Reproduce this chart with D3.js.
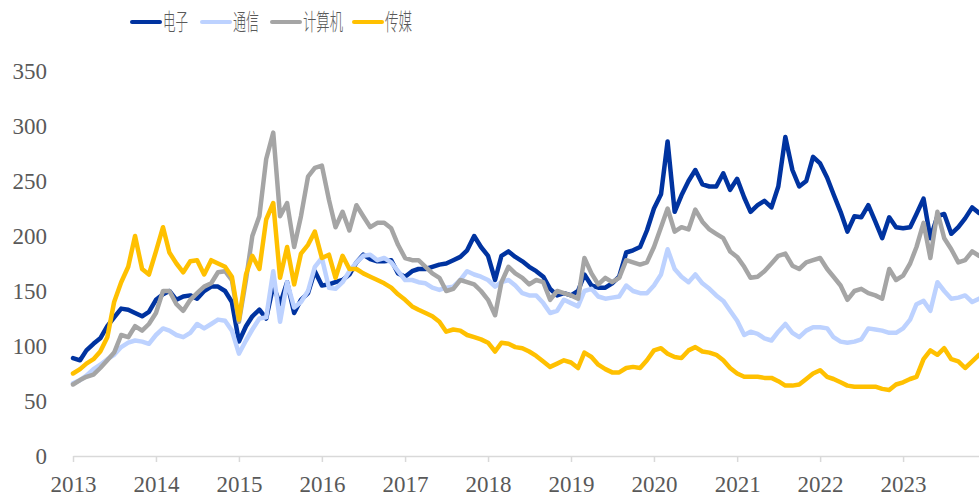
<!DOCTYPE html>
<html lang="zh">
<head>
<meta charset="UTF-8">
<title>电子 通信 计算机 传媒</title>
<script src="https://cdn.jsdelivr.net/npm/d3@7"></script>
<style>
    body { margin: 0; background: #fff; }
    svg { display: block; }
</style>
</head>
<body>
<div id="chart"></div>
<script>
    const width = 979;
    const height = 496;

    // monthly index values, Jan 2013 .. Dec 2023
    const names = ["电子", "通信", "计算机", "传媒"];
    const colors = ["#0033A0", "#BDD2FF", "#A5A5A5", "#FFC000"];
    const yTicks = [0, 50, 100, 150, 200, 250, 300, 350];
    const years = [2013, 2014, 2015, 2016, 2017, 2018, 2019, 2020, 2021, 2022, 2023];

    const dianzi = [
        89, 87, 96, 102, 107, 118, 126, 134, 133, 130, 127, 131,
        142, 147, 150, 142, 145, 146, 143, 150, 154, 154, 150, 140,
        104, 118, 127, 133, 125, 155, 138, 158, 130, 142, 148, 168,
        155, 156, 158, 160, 165, 176, 183, 179, 177, 177, 178, 166,
        163, 168, 170, 170, 172, 174, 175, 178, 181, 187, 200, 190,
        182, 160, 182, 186, 181, 177, 172, 168, 163, 152, 146, 148,
        146, 150, 165, 155, 153, 153, 157, 163, 185, 187, 190, 205,
        225, 238, 286, 222, 237, 250, 260, 247, 245, 245, 257, 242,
        252, 235, 222, 228, 232, 226, 245, 290, 260, 245, 250, 272,
        266, 253, 238, 222, 204, 218, 217, 228, 213, 198, 217, 208,
        207, 208, 220, 234, 198, 218, 220, 202, 208, 216, 226, 221
    ];
    const tongxin = [
        66, 69, 73, 79, 83, 88, 92, 99, 103, 105, 104, 102,
        110, 116, 114, 110, 108, 112, 120, 116, 120, 124, 123, 114,
        93, 105, 115, 125, 126, 168, 122, 158, 135, 140, 150, 172,
        180, 153, 152, 158, 168, 176, 182, 183, 178, 180, 176, 168,
        160, 160, 158, 157, 153, 151, 153, 154, 160, 168, 165, 163,
        160, 154, 158, 160, 155, 148, 146, 146, 139, 130, 132, 142,
        139, 136, 150, 152, 145, 143, 144, 145, 155, 150, 148, 148,
        155, 165, 188, 170, 163, 158, 165, 157, 152, 146, 141, 132,
        123, 110, 113, 111, 107, 105, 113, 120, 112, 108, 114, 117,
        117, 116, 108, 104, 103, 104, 106, 116, 115, 114, 112, 112,
        116, 124, 138, 141, 132, 158, 150, 143, 144, 146, 140, 143
    ];
    const jisuanji = [
        65, 69, 72, 74, 80, 87, 94, 110, 108, 118, 114, 120,
        130, 150, 150, 138, 132, 142, 148, 154, 157, 167, 168, 160,
        122, 160, 200, 218, 270, 294, 218, 230, 190, 218, 254, 262,
        264, 233, 208, 222, 205, 228, 218, 208, 212, 212, 207, 192,
        180, 178, 178, 172, 166, 162, 150, 152, 160, 158, 156, 150,
        142, 128, 158, 172, 166, 162, 156, 160, 158, 142, 150, 148,
        146, 143, 180, 166, 156, 162, 158, 162, 178, 176, 174, 176,
        190, 208, 225, 204, 208, 206, 224, 213, 206, 202, 198, 186,
        181, 172, 162, 163, 168, 175, 182, 184, 173, 170, 176, 178,
        180, 170, 163, 155, 142, 150, 152, 148, 146, 143, 170, 160,
        164, 175, 190, 212, 180, 222, 198, 188, 176, 178, 186, 182
    ];
    const chuanmei = [
        75, 79, 84, 88, 95, 108, 140, 158, 172, 200, 170, 165,
        186, 208, 185, 175, 167, 177, 178, 165, 178, 175, 172, 163,
        124, 165, 182, 170, 215, 230, 162, 190, 156, 184, 192, 204,
        180, 183, 162, 182, 170, 170, 166, 163, 160, 157, 153, 147,
        142, 136, 133, 130, 127, 122, 113, 115, 114, 110, 108, 106,
        103, 95, 103, 102, 99, 98, 95, 91, 86, 81, 84, 87,
        85, 80, 94, 90, 83, 79, 76, 76, 80, 81, 80, 87,
        96, 98, 93, 90, 89, 96, 99, 95, 94, 92, 87, 80,
        75, 72, 72, 72, 71, 71, 68, 64, 64, 65, 70, 75,
        78, 72, 70, 67, 64, 63, 63, 63, 63, 61, 60, 65,
        67, 70, 72, 88, 96, 92, 98, 88, 86, 80, 86, 92
    ];
    const seriesValues = [dianzi, tongxin, jisuanji, chuanmei];

    const dates = dianzi.map((d, i) => new Date(2013, i, 1));

    const svg = d3.select("#chart")
        .append("svg")
        .attr("width", width)
        .attr("height", height);

    const x = d3.scaleTime()
        .domain([dates[0], dates[dates.length - 1]])
        .range([73, 979]);

    const y = d3.scaleLinear()
        .domain([0, 350])
        .range([456, 71]);

    // x axis
    const xAxis = svg.append("g")
        .attr("transform", "translate(0,456)")
        .call(d3.axisBottom(x)
            .tickValues(years.map(yr => new Date(yr, 0, 1)))
            .tickFormat(d3.timeFormat("%Y"))
            .tickSize(6)
            .tickSizeOuter(0)
            .tickPadding(14));
    xAxis.select(".domain").attr("stroke", "#D9D9D9").attr("stroke-width", 1.5);
    xAxis.selectAll(".tick line").attr("stroke", "#D9D9D9").attr("stroke-width", 1.5);
    xAxis.selectAll(".tick text")
        .attr("fill", "#595959")
        .style("font-family", "'Liberation Serif', 'Times New Roman', serif")
        .style("font-size", "23px");

    // y axis (labels only)
    const yAxis = svg.append("g")
        .attr("transform", "translate(47,0)")
        .call(d3.axisLeft(y).tickValues(yTicks).tickSize(0).tickPadding(0));
    yAxis.select(".domain").remove();
    yAxis.selectAll(".tick text")
        .attr("fill", "#595959")
        .style("font-family", "'Liberation Serif', 'Times New Roman', serif")
        .style("font-size", "23px");

    // lines
    const line = d3.line()
        .x((d, i) => x(dates[i]))
        .y(d => y(d));

    svg.selectAll("path.series")
        .data(seriesValues)
        .enter()
        .append("path")
        .attr("class", "series")
        .attr("d", line)
        .attr("fill", "none")
        .attr("stroke", (d, i) => colors[i])
        .attr("stroke-width", 4.5)
        .attr("stroke-linejoin", "round")
        .attr("stroke-linecap", "round");

    // legend
    const legendX = [132, 202, 272, 354];
    const textLen = [25, 26, 40, 27];
    const legend = svg.append("g");
    names.forEach((name, i) => {
        legend.append("line")
            .attr("x1", legendX[i])
            .attr("x2", legendX[i] + 28)
            .attr("y1", 22)
            .attr("y2", 22)
            .attr("stroke", colors[i])
            .attr("stroke-width", 4)
            .attr("stroke-linecap", "round");
        legend.append("text")
            .attr("x", legendX[i] + 31)
            .attr("y", 22)
            .attr("dy", "0.36em")
            .attr("textLength", textLen[i])
            .attr("lengthAdjust", "spacingAndGlyphs")
            .attr("fill", "#595959")
            .style("font-family", "'Noto Sans CJK SC', sans-serif")
            .style("font-weight", 300)
            .style("font-size", "23px")
            .text(name);
    });
</script>
</body>
</html>
